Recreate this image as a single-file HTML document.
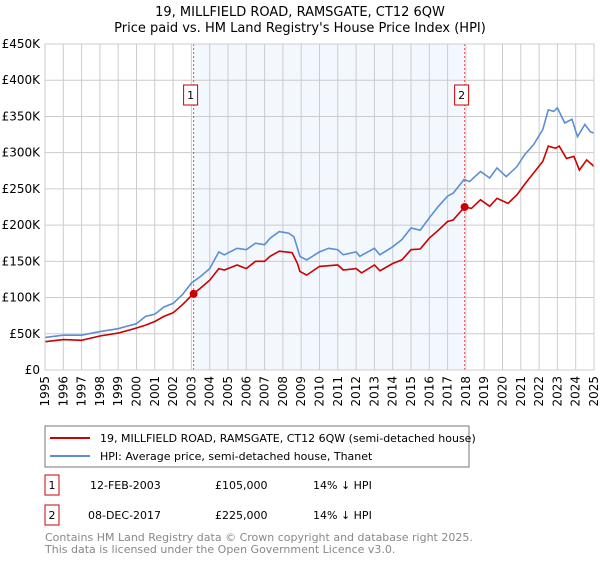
<!DOCTYPE html>
<html><head><meta charset="utf-8"><style>
body{margin:0;background:#fff;font-family:"Liberation Sans","DejaVu Sans",sans-serif}
svg text{font-family:"DejaVu Sans","Liberation Sans",sans-serif}
</style></head><body>
<svg id="c" width="600" height="560" viewBox="0 0 600 560">
<text x="300" y="16" text-anchor="middle" font-size="13">19, MILLFIELD ROAD, RAMSGATE, CT12 6QW</text>
<text x="300" y="32" text-anchor="middle" font-size="13">Price paid vs. HM Land Registry's House Price Index (HPI)</text>
<g id="plot"></g>
<g>
<rect x="45" y="426" width="424" height="41" fill="#fff" stroke="#777"/>
<line x1="50" y1="438" x2="90" y2="438" stroke="#cc0000" stroke-width="2"/>
<text x="100" y="442" font-size="11">19, MILLFIELD ROAD, RAMSGATE, CT12 6QW (semi-detached house)</text>
<line x1="50" y1="456" x2="90" y2="456" stroke="#5b8fd4" stroke-width="2"/>
<text x="100" y="460" font-size="11">HPI: Average price, semi-detached house, Thanet</text>
</g>
<g font-size="11">
<rect x="45" y="475" width="14" height="20" fill="#fff" stroke="#cc0000"/>
<text x="52" y="489" text-anchor="middle">1</text>
<text x="90" y="489">12-FEB-2003</text><text x="215" y="489">£105,000</text><text x="313" y="489">14% ↓ HPI</text>
<rect x="45" y="505" width="14" height="20" fill="#fff" stroke="#cc0000"/>
<text x="52" y="519" text-anchor="middle">2</text>
<text x="88" y="519">08-DEC-2017</text><text x="215" y="519">£225,000</text><text x="313" y="519">14% ↓ HPI</text>
</g>
<text x="45" y="541" font-size="11" fill="#888">Contains HM Land Registry data © Crown copyright and database right 2025.</text>
<text x="45" y="553" font-size="11" fill="#888">This data is licensed under the Open Government Licence v3.0.</text>
</svg>
<script>
const yTicks=[0,50,100,150,200,250,300,350,400,450];
const yTickLabels=["£0","£50K","£100K","£150K","£200K","£250K","£300K","£350K","£400K","£450K"];
const years=[1995,1996,1997,1998,1999,2000,2001,2002,2003,2004,2005,2006,2007,2008,2009,2010,2011,2012,2013,2014,2015,2016,2017,2018,2019,2020,2021,2022,2023,2024,2025];
const hpiT=[1995,1996,1997,1998,1999,2000,2000.5,2001,2001.5,2002,2002.5,2003,2003.5,2004,2004.5,2004.8,2005.5,2006,2006.5,2007,2007.3,2007.8,2008.3,2008.6,2008.93,2009.3,2010,2010.5,2011,2011.3,2012,2012.2,2013,2013.3,2014,2014.5,2015,2015.5,2016,2016.5,2017,2017.3,2017.9,2018.2,2018.8,2019.3,2019.7,2020.2,2020.8,2021.2,2021.7,2022.2,2022.5,2022.8,2023.0,2023.4,2023.8,2024.1,2024.5,2024.8,2025];
const hpiV=[45,48,48,53,57,64,74,77,87,92,104,120,129,140,163,159,168,166,175,173,182,191,189,184,157,152,163,168,166,159,163,157,168,159,170,180,196,193,210,226,240,244,263,260,274,265,279,267,281,297,311,332,359,357,362,341,346,322,339,329,327];
const priceT=[1995,1996,1997,1998,1999,2000,2000.5,2001,2001.5,2002,2002.5,2003.1,2003.5,2004,2004.5,2004.8,2005.5,2006,2006.5,2007,2007.3,2007.8,2008.5,2008.8,2008.93,2009.3,2010,2011,2011.3,2012,2012.3,2013,2013.3,2014,2014.5,2015,2015.5,2016,2016.5,2017,2017.3,2017.93,2018.3,2018.8,2019.3,2019.7,2020.3,2020.8,2021.2,2021.7,2022.2,2022.5,2022.9,2023.1,2023.5,2023.9,2024.2,2024.6,2025];
const priceV=[39,42,41,47,51,58,62,67,74,79,90,105,113,124,140,138,145,140,150,150,157,164,162,147,136,131,143,145,138,140,134,145,137,147,152,166,167,182,193,205,207,225,223,235,226,237,230,242,256,272,288,309,306,309,292,295,276,290,281];
const saleT=[2003.12,2017.93];
const saleV=[105,225];
const saleLabels=["1","2"];
const NS="http://www.w3.org/2000/svg";
const X0=45,X1=594,Y0=370,Y1=44;
const xs=t=>X0+(t-1995)/30*(X1-X0);
const ys=v=>Y0-v/450*(Y0-Y1);
const g=document.getElementById('plot');
function mk(tag,at,parent){const e=document.createElementNS(NS,tag);for(const k in at)e.setAttribute(k,at[k]);(parent||g).appendChild(e);return e;}
const sh=mk('rect',{x:xs(saleT[0]),y:Y1,width:xs(saleT[1])-xs(saleT[0]),height:Y0-Y1,fill:'#eef3fd',opacity:0.7});


yTicks.forEach((v,i)=>{
 const l=mk('line',{x1:X0,x2:X1,y1:ys(v),y2:ys(v),stroke:'#ccc'});
 
 
 const t=mk('text',{x:X0-5,y:ys(v)+4,'text-anchor':'end','font-size':12});
 
 
 t.textContent=yTickLabels[i];
});
years.forEach(y=>{
 const l=mk('line',{x1:xs(y),x2:xs(y),y1:Y1,y2:Y0,stroke:'#ccc'});
 
 
 const t=mk('text',{x:0,y:0,'text-anchor':'end','font-size':12,transform:`translate(${xs(y)+4},${Y0+6}) rotate(-90)`});
 
 
 t.textContent=y;
});
function path(T,V){return T.map((t,i)=>(i?'L':'M')+xs(t).toFixed(1)+','+ys(V[i]).toFixed(1)).join('');}
saleT.forEach((t,i)=>{
 const l=mk('line',{x1:xs(t),x2:xs(t),y1:Y1,y2:Y0,stroke:'#e05050','stroke-dasharray':'2,2'});
 
 
 const r=mk('rect',{x:xs(t)-10,y:85,width:14,height:20,fill:'#fff',stroke:'#cc0000'});
 
 
 const tx=mk('text',{x:xs(t)-3,y:99,'text-anchor':'middle','font-size':11});
 
 
 tx.textContent=saleLabels[i];
});
const hp=mk('path',{d:path(hpiT,hpiV),fill:'none',stroke:'#5b8fd4','stroke-width':1.6});


const pp=mk('path',{d:path(priceT,priceV),fill:'none',stroke:'#cc0000','stroke-width':1.6});


saleT.forEach((t,i)=>{
 const c=mk('circle',{cx:xs(t),cy:ys(saleV[i]),r:4,fill:'#cc0000'});
 
 
});
const b=mk('rect',{x:X0,y:Y1,width:X1-X0,height:Y0-Y1,fill:'none',stroke:'#ccc'});


</script>
</body></html>
